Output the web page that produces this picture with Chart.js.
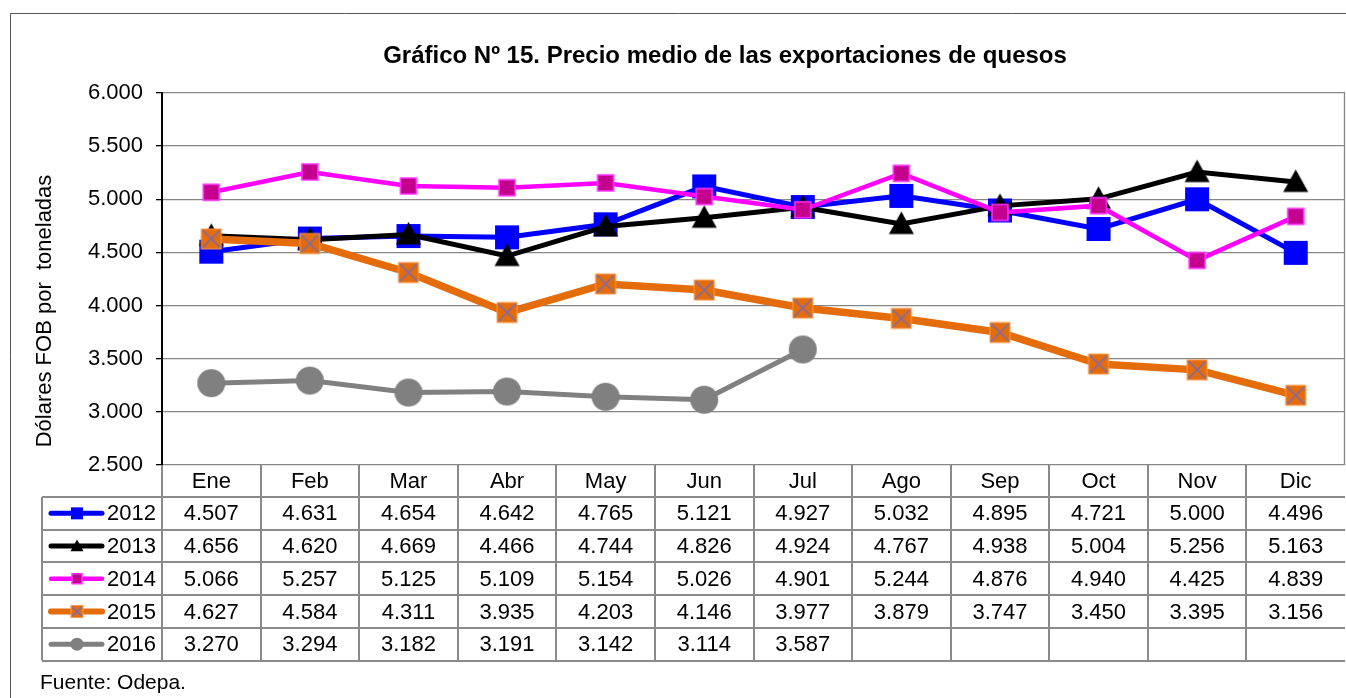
<!DOCTYPE html>
<html><head><meta charset="utf-8">
<script src="https://cdn.jsdelivr.net/npm/chart.js@4.4.1/dist/chart.umd.min.js"></script>
<style>html,body{margin:0;padding:0;background:#fff;overflow:hidden;}#wrap{width:1346px;height:698px;position:relative;}canvas{display:block;}</style>
</head><body><div id="wrap"><canvas id="c" width="1346" height="698"></canvas></div>
<script>
const months = ['Ene','Feb','Mar','Abr','May','Jun','Jul','Ago','Sep','Oct','Nov','Dic'];
const years = ['2012','2013','2014','2015','2016'];
const v2012 = [4507,4631,4654,4642,4765,5121,4927,5032,4895,4721,5000,4496];
const v2013 = [4656,4620,4669,4466,4744,4826,4924,4767,4938,5004,5256,5163];
const v2014 = [5066,5257,5125,5109,5154,5026,4901,5244,4876,4940,4425,4839];
const v2015 = [4627,4584,4311,3935,4203,4146,3977,3879,3747,3450,3395,3156];
const v2016 = [3270,3294,3182,3191,3142,3114,3587,null,null,null,null,null];
const yTicks = [2500,3000,3500,4000,4500,5000,5500,6000];
const titleText = 'Gráfico Nº 15. Precio medio de las exportaciones de quesos';
const yTitle = 'Dólares FOB por  toneladas';
const sourceText = 'Fuente: Odepa.';

const FONT = '"Liberation Sans", Arial, sans-serif';
function fmt(n){ if(n===null||n===undefined) return ''; return String(n).replace(/\B(?=(\d{3})+(?!\d))/g,'.'); }

function drawMarker(ctx, kind, x, y, s){
  ctx.save();
  if(kind==='sqBlue'){ ctx.fillStyle='#0000FF'; ctx.fillRect(x-s/2,y-s/2,s,s); }
  else if(kind==='tri'){ ctx.fillStyle='#000'; ctx.beginPath(); ctx.moveTo(x,y-s*0.5); ctx.lineTo(x+s/2,y+s*0.4); ctx.lineTo(x-s/2,y+s*0.4); ctx.closePath(); ctx.fill(); }
  else if(kind==='sqMag'){ ctx.fillStyle='#C4008E'; ctx.strokeStyle='#FF33FF'; ctx.lineWidth=1.5; ctx.fillRect(x-s/2,y-s/2,s,s); ctx.strokeRect(x-s/2,y-s/2,s,s); }
  else if(kind==='xOr'){ ctx.fillStyle='#E46C0A'; ctx.strokeStyle='#F59A50'; ctx.lineWidth=1; ctx.fillRect(x-s/2,y-s/2,s,s); ctx.strokeRect(x-s/2,y-s/2,s,s);
    ctx.strokeStyle='#7A6BB0'; ctx.lineWidth=1.6; const h=s/2-1.5; ctx.beginPath(); ctx.moveTo(x-h,y-h); ctx.lineTo(x+h,y+h); ctx.moveTo(x+h,y-h); ctx.lineTo(x-h,y+h); ctx.stroke(); }
  else if(kind==='circ'){ ctx.fillStyle='#808080'; ctx.beginPath(); ctx.arc(x,y,s/2,0,Math.PI*2); ctx.fill(); }
  ctx.restore();
}
function markerCanvas(kind, s){
  const c=document.createElement('canvas'); const d=Math.ceil(s+4); c.width=d; c.height=d;
  drawMarker(c.getContext('2d'), kind, d/2, d/2, s); return c;
}
const styles = [
  {data:v2012, color:'#0000FF', lw:5, kind:'sqBlue', size:24, lsize:12},
  {data:v2013, color:'#000000', lw:5, kind:'tri', size:25, lsize:13},
  {data:v2014, color:'#FF00FF', lw:4.5, kind:'sqMag', size:16, lsize:10},
  {data:v2015, color:'#E46C0A', lw:7.5, kind:'xOr', size:20, lsize:12},
  {data:v2016, color:'#808080', lw:5, kind:'circ', size:28, lsize:13}
];
const datasets = styles.map((s,i)=>({
  label: years[i], data: s.data, borderColor: s.color, backgroundColor: s.color,
  borderWidth: s.lw, pointStyle: markerCanvas(s.kind, s.size), pointRadius: s.size/2,
  tension: 0, spanGaps: false, order: 5-i
}));

const decor = {
  id:'decor',
  afterDraw(chart){
    const ctx=chart.ctx, ca=chart.chartArea, xs=chart.scales.x;
    ctx.save();
    ctx.strokeStyle='#555'; ctx.lineWidth=1;
    ctx.beginPath(); ctx.moveTo(10.5,698); ctx.lineTo(10.5,13.5); ctx.lineTo(1346,13.5); ctx.stroke();
    ctx.strokeStyle='#868686'; ctx.lineWidth=1.3;
    ctx.beginPath(); ctx.moveTo(ca.right-0.5,ca.top); ctx.lineTo(ca.right-0.5,ca.bottom); ctx.stroke();
    ctx.fillStyle='#000'; ctx.font='bold 24px '+FONT; ctx.textAlign='center'; ctx.textBaseline='middle';
    ctx.fillText(titleText, 725, 56);
    ctx.save(); ctx.translate(45, 311); ctx.rotate(-Math.PI/2); ctx.font='22px '+FONT; ctx.fillText(yTitle,0,0); ctx.restore();
    const cw=(ca.right-ca.left)/months.length;
    const top=ca.bottom, hh=32, rh=32.7, leftX=42;
    const bottom=top+hh+rh*years.length;
    ctx.strokeStyle='#8A8A8A'; ctx.lineWidth=2;
    ctx.beginPath();
    for(let r=0;r<=years.length;r++){ const y=Math.round(top+hh+rh*r); ctx.moveTo(leftX,y); ctx.lineTo(ca.right,y); }
    ctx.moveTo(leftX,top+hh); ctx.lineTo(leftX,bottom);
    for(let i=0;i<months.length;i++){ const x=Math.round(ca.left+cw*i); ctx.moveTo(x,top); ctx.lineTo(x,bottom); }
    ctx.stroke();
    ctx.font='22px '+FONT; ctx.fillStyle='#000'; ctx.textAlign='center'; ctx.textBaseline='middle';
    months.forEach((m,i)=>{ ctx.fillText(m, xs.getPixelForValue(i), top+hh/2+1); });
    styles.forEach((s,r)=>{
      const yc=top+hh+rh*r+rh/2+1;
      s.data.forEach((v,i)=>{ ctx.fillText(fmt(v), xs.getPixelForValue(i), yc); });
      ctx.save(); ctx.strokeStyle=s.color; ctx.lineWidth=Math.min(s.lw,6); ctx.lineCap='round';
      ctx.beginPath(); ctx.moveTo(51,yc-1); ctx.lineTo(102,yc-1); ctx.stroke(); ctx.restore();
      drawMarker(ctx, s.kind, 77, yc-1, s.lsize);
      ctx.textAlign='left'; ctx.fillText(years[r], 107, yc); ctx.textAlign='center';
    });
    ctx.font='21px '+FONT; ctx.textAlign='left';
    ctx.fillText(sourceText, 40, 683);
    ctx.restore();
  }
};

new Chart(document.getElementById('c'), {
  type:'line',
  data:{labels:months, datasets},
  options:{
    responsive:false, animation:false, devicePixelRatio:1,
    layout:{autoPadding:false, padding:{top:93,right:1,bottom:233,left:0}},
    plugins:{legend:{display:false}, title:{display:false}, tooltip:{enabled:false}},
    scales:{
      x:{type:'category', offset:true, display:false},
      y:{min:2500,max:6000,
        afterBuildTicks(scale){ scale.ticks = yTicks.map(v=>({value:v})); },
        afterFit(scale){ scale.width=162; },
        ticks:{callback:v=>fmt(v), color:'#000', font:{family:FONT,size:22}, padding:13},
        grid:{color:'#868686', lineWidth:1.3, tickLength:6, tickColor:'#000', drawTicks:true},
        border:{display:true, color:'#000', width:2}
      }
    }
  },
  plugins:[decor]
});
</script></body></html>
